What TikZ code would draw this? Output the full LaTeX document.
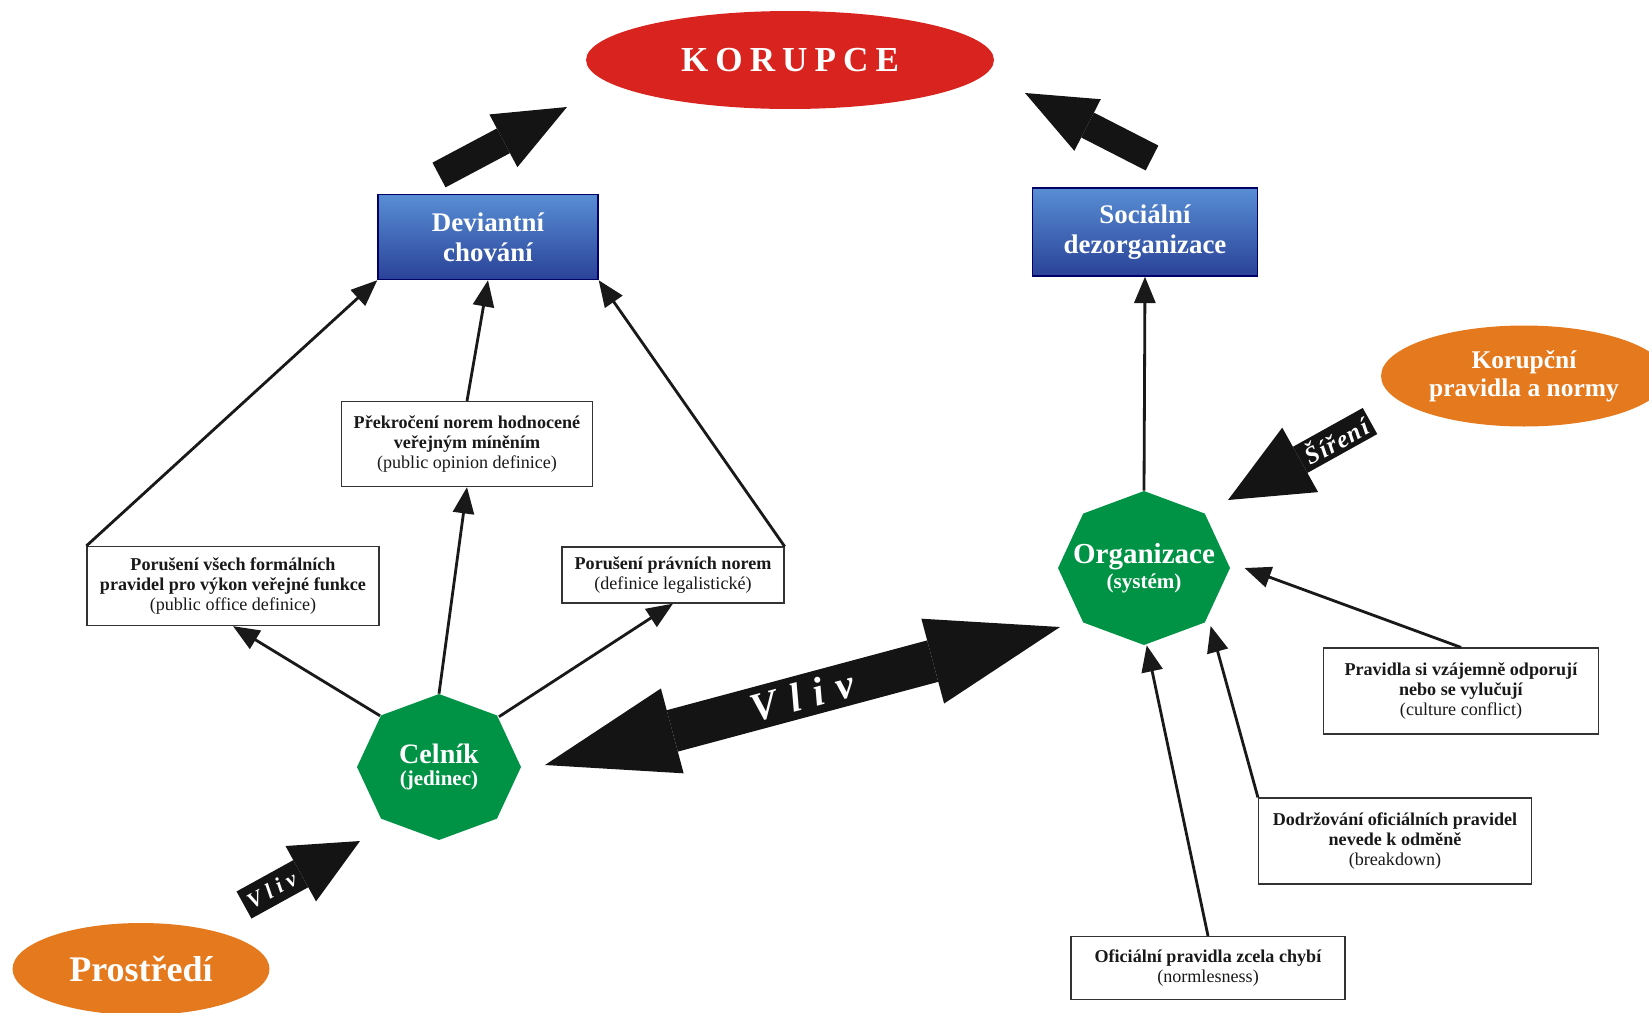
\documentclass[tikz,border=0pt]{standalone}
\usepackage{fontspec}
\setmainfont{Liberation Serif}
\usetikzlibrary{shapes.geometric,arrows.meta}

\definecolor{korred}{RGB}{216,35,30}
\definecolor{korange}{RGB}{228,121,30}
\definecolor{octgreen}{RGB}{0,146,69}
\definecolor{boxtop}{RGB}{88,142,212}
\definecolor{boxbot}{RGB}{42,66,152}

\tikzstyle{txtbox}=[draw=black!80,
	       line width=0.7pt,
	       fill=white,
	       align=center,
	       text=black!90,
	       inner sep=2pt,
	       font=\fontsize{10.3}{11.6}\selectfont]
\tikzstyle{bluebox}=[draw=black!60!blue,
	       line width=0.8pt,
	       top color=boxtop,
	       bottom color=boxbot,
	       text=white,
	       align=center,
	       font=\fontsize{15.3}{17}\selectfont\bfseries]
\tikzstyle{blob}=[shape=ellipse,
	       fill=korange,
	       text=white,
	       align=center,
	       inner sep=0pt]
\tikzstyle{octnode}=[shape=ellipse,
	       text=white,
	       align=center,
	       inner sep=0pt,
	       font=\bfseries]
\tikzstyle{linkarrow}=[line width=1.6pt, black!90,
	       -{Triangle[length=15pt, width=12pt]}]
\tikzstyle{fatarrow}=[black!92]
\tikzstyle{arrowtxt}=[text=white, sloped, inner sep=0pt]

\begin{document}
\begin{tikzpicture}[x=0.02cm, y=-0.02cm]
\useasboundingbox (0,0) rectangle (1649,1012);

% top goal
\node[shape=ellipse, fill=korred, minimum width=8.16cm, minimum height=1.96cm,
      text=white, font=\fontsize{20}{24}\selectfont\bfseries\addfontfeatures{LetterSpace=20}]
      (korupce) at (790,60) {KORUPCE};

% blue result boxes
\node[bluebox, minimum width=4.4cm, minimum height=1.7cm] (dev) at (488,237) {Deviantní\\chování};
\node[bluebox, minimum width=4.5cm, minimum height=1.76cm] (soc) at (1145,232) {Sociální\\dezorganizace};

% definition boxes on the left
\node[txtbox, minimum width=5.02cm, minimum height=1.7cm] (opinion) at (467,444)
     {\textbf{Překročení norem hodnocené}\\\textbf{veřejným míněním}\\(public opinion definice)};
\node[txtbox, minimum width=5.84cm, minimum height=1.58cm] (office) at (233,586)
     {\textbf{Porušení všech formálních}\\\textbf{pravidel pro výkon veřejné funkce}\\(public office definice)};
\node[txtbox, minimum width=4.44cm, minimum height=1.12cm] (legal) at (673,575)
     {\textbf{Porušení právních norem}\\(definice legalistické)};

% rule boxes on the right
\node[txtbox, minimum width=5.5cm, minimum height=1.72cm] (prav) at (1461,691)
     {\textbf{Pravidla si vzájemně odporují}\\\textbf{nebo se vylučují}\\(culture conflict)};
\node[txtbox, minimum width=5.46cm, minimum height=1.72cm] (dod) at (1395,841)
     {\textbf{Dodržování oficiálních pravidel}\\\textbf{nevede k odměně}\\(breakdown)};
\node[txtbox, minimum width=5.48cm, minimum height=1.26cm] (ofi) at (1208,968)
     {\textbf{Oficiální pravidla zcela chybí}\\(normlesness)};

% green octagons: fill first, then the named node on top
\coordinate (celc) at (439,767);
\fill[octgreen] (celc) +(0:1.64cm and 1.46cm)
   \foreach \a in {45,90,...,315} { -- +(\a:1.64cm and 1.46cm) } -- cycle;
\node[octnode, minimum width=3.28cm, minimum height=2.92cm] (cel) at (celc)
     {{\fontsize{16}{18}\selectfont Celník}\\[1pt]{\fontsize{12}{14}\selectfont (jedinec)}};

\coordinate (orgc) at (1144,568);
\fill[octgreen] (orgc) +(0:1.72cm and 1.54cm)
   \foreach \a in {45,90,...,315} { -- +(\a:1.72cm and 1.54cm) } -- cycle;
\node[octnode, minimum width=3.44cm, minimum height=3.08cm] (org) at (orgc)
     {{\fontsize{16.5}{18}\selectfont Organizace}\\[2pt]{\fontsize{12}{14}\selectfont (systém)}};

% orange sources
\node[blob, minimum width=5.72cm, minimum height=2.02cm,
      font=\fontsize{14.5}{16}\selectfont\bfseries] (kornormy) at (1524,376) {Korupční\\pravidla a normy};
\node[blob, minimum width=5.14cm, minimum height=1.84cm,
      font=\fontsize{20.5}{24}\selectfont\bfseries] (prostr) at (141,969) {Prostředí};

% thin links
\draw[linkarrow] (office.north west) -- (dev.south west);
\draw[linkarrow] (opinion.north) -- (dev.south);
\draw[linkarrow] (legal.north east) -- (dev.south east);
\draw[linkarrow] (cel.139) -- (office.south);
\draw[linkarrow] (cel.north) -- (opinion.south);
\draw[linkarrow] (cel.40) -- (legal.south);
\draw[linkarrow] (org.north) -- (soc.south);
\draw[linkarrow] (prav.north) -- (org.east);
\draw[linkarrow] (dod.north west) -- (org.-41);
\draw[linkarrow] (ofi.north) -- (org.-88);

% fat block arrows, free ends as coordinates
\coordinate (devtail) at (439,175);
\coordinate (devtip) at (567,107);
\draw[fatarrow, line width=15.9pt, -{Triangle[length=41pt, width=34pt, line width=0pt]}] (devtail) -- (devtip);

\coordinate (soctail) at (1152,158);
\coordinate (soctip) at (1025,93);
\draw[fatarrow, line width=15.9pt, -{Triangle[length=40pt, width=33pt, line width=0pt]}] (soctail) -- (soctip);

\coordinate (sirtail) at (1370,421);
\coordinate (sirtip) at (1228,500);
\draw[fatarrow, line width=17pt, -{Triangle[length=47pt, width=42pt, line width=0pt]}] (sirtail) -- (sirtip)
   node[arrowtxt, pos=0.24, font=\fontsize{14}{16}\selectfont\bfseries\itshape\addfontfeatures{LetterSpace=6}] (sirtxt) {Šíření};

\coordinate (vlleft) at (545,765);
\coordinate (vlright) at (1060,627);
\draw[fatarrow, line width=24.4pt, {Triangle[length=75pt, width=50pt, line width=0pt]}-{Triangle[length=75pt, width=50pt, line width=0pt]}] (vlleft) -- (vlright)
   node[arrowtxt, midway, font=\fontsize{23}{24}\selectfont\bfseries\itshape\addfontfeatures{LetterSpace=32}] (vlivtxt) {Vliv};

\coordinate (prtail) at (244,905);
\coordinate (prtip) at (360,841);
\draw[fatarrow, line width=17.6pt, -{Triangle[length=38.5pt, width=36pt, line width=0pt]}] (prtail) -- (prtip)
   node[arrowtxt, pos=0.24, font=\fontsize{12.5}{14}\selectfont\bfseries\itshape\addfontfeatures{LetterSpace=25}] (prvtxt) {Vliv};

\end{tikzpicture}
\end{document}
